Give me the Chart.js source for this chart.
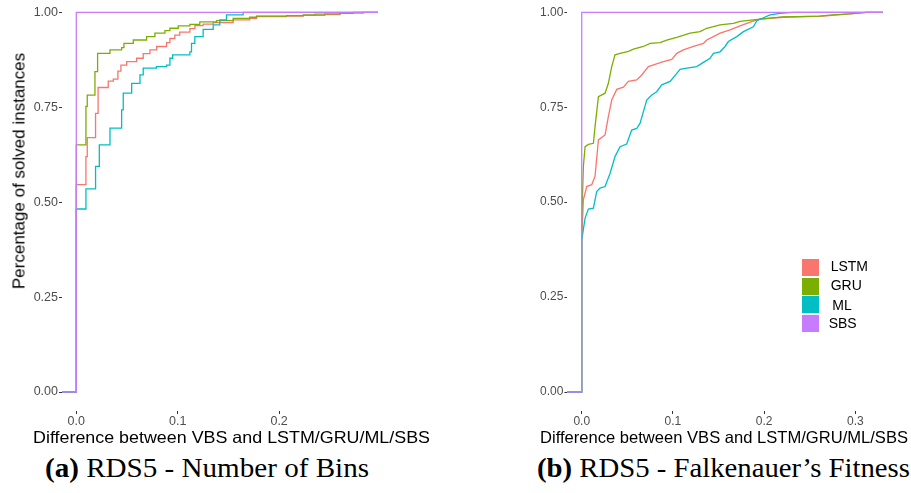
<!DOCTYPE html>
<html>
<head>
<meta charset="utf-8">
<script src="https://cdn.jsdelivr.net/npm/chart.js@4.4.1/dist/chart.umd.min.js"></script>
<style>
  html, body { margin: 0; padding: 0; background: #fff; }
  body { width: 911px; height: 493px; position: relative; overflow: hidden; }
  canvas { position: absolute; }
  .t { position: absolute; white-space: nowrap; line-height: 1; color: #000; }
  .sans { font-family: 'Liberation Sans', Arial, sans-serif; }
  .serif { font-family: 'Liberation Serif', 'Times New Roman', serif; }
  .key { position: absolute; width: 17px; height: 17px; border: 1px solid #fff; box-sizing: content-box; }
</style>
</head>
<body>
<canvas id="cA" width="455" height="440" style="left:0;top:0;"></canvas>
<canvas id="cB" width="456" height="440" style="left:455px;top:0;"></canvas>

<div class="t sans" id="ytitle" style="font-size:17px;left:18.5px;top:171px;transform:translate(-50%,-50%) rotate(-90deg);">Percentage of solved instances</div>
<div class="t sans fit" data-w="397" style="font-size:16.5px;left:33.3px;top:429.3px;">Difference between VBS and LSTM/GRU/ML/SBS</div>
<div class="t sans fit" data-w="368" style="font-size:16.5px;left:540px;top:429.3px;">Difference between VBS and LSTM/GRU/ML/SBS</div>
<div class="t serif fit" data-w="324" style="font-size:27px;left:45px;top:455.4px;"><b>(a)</b> RDS5 - Number of Bins</div>
<div class="t serif fit" data-w="373" style="font-size:27px;left:536.7px;top:455.4px;"><b>(b)</b> RDS5 - Falkenauer’s Fitness</div>
<div id="legend"></div>

<script>
// ---------- data ----------
const seriesNames = ['LSTM', 'GRU', 'ML', 'SBS'];
const seriesColors = ['#F8766D', '#7CAE00', '#00BFC4', '#C77CFF'];
const yTicks = [0, 0.25, 0.5, 0.75, 1];
const xTicksA = [0, 0.1, 0.2];
const xTicksB = [0, 0.1, 0.2, 0.3];
// ECDF padding (-Inf / +Inf), as in stat_ecdf(pad = TRUE)
const PAD_LO = -1, PAD_HI = 1;

// (a) RDS5 - Number of Bins
const aLSTM_x = [0, 0.0095, 0.0108, 0.019, 0.0215, 0.0315, 0.0365, 0.041, 0.044, 0.0497, 0.0595, 0.066, 0.0726, 0.0792, 0.089, 0.0923, 0.0972, 0.102, 0.112, 0.117, 0.125, 0.135, 0.1547, 0.171, 0.1777, 0.2073, 0.2237, 0.245, 0.26, 0.273, 0.283];
const aLSTM_y = [0.546, 0.62, 0.670, 0.734, 0.802, 0.819, 0.824, 0.845, 0.861, 0.870, 0.879, 0.891, 0.901, 0.910, 0.920, 0.931, 0.940, 0.948, 0.957, 0.965, 0.969, 0.973, 0.980, 0.984, 0.989, 0.990, 0.992, 0.994, 0.997, 0.998, 1.0];
const aGRU_x = [0, 0.0095, 0.0108, 0.0184, 0.021, 0.0332, 0.0447, 0.047, 0.0562, 0.0693, 0.0775, 0.0874, 0.0923, 0.1005, 0.112, 0.1218, 0.1383, 0.1547, 0.171, 0.1777, 0.2073, 0.2237, 0.2352, 0.245, 0.26, 0.273];
const aGRU_y = [0.651, 0.752, 0.782, 0.844, 0.892, 0.901, 0.907, 0.918, 0.927, 0.936, 0.945, 0.952, 0.958, 0.964, 0.968, 0.975, 0.978, 0.984, 0.987, 0.990, 0.991, 0.993, 0.995, 0.996, 0.998, 1.0];
const aML_x = [0, 0.0095, 0.019, 0.0227, 0.0332, 0.0447, 0.0463, 0.0546, 0.0628, 0.066, 0.079, 0.089, 0.0923, 0.095, 0.112, 0.1136, 0.1169, 0.1251, 0.135, 0.1415, 0.1481, 0.1645];
const aML_y = [0.482, 0.535, 0.594, 0.651, 0.695, 0.743, 0.787, 0.813, 0.835, 0.853, 0.857, 0.861, 0.879, 0.888, 0.896, 0.918, 0.936, 0.955, 0.967, 0.980, 0.993, 1.0];
const aSBS_x = [0];
const aSBS_y = [1.0];

// (b) RDS5 - Falkenauer's Fitness
const bLSTM_x = [0, 0.0018, 0.0055, 0.011, 0.0146, 0.0183, 0.0256, 0.0292, 0.0329, 0.0384, 0.0457, 0.0512, 0.0603, 0.0658, 0.0731, 0.0804, 0.0895, 0.0987, 0.1042, 0.1115, 0.1225, 0.1334, 0.1371, 0.1444, 0.1517, 0.1626, 0.1736, 0.181, 0.188, 0.1955, 0.2207, 0.265, 0.29, 0.3125];
const bLSTM_y = [0.40, 0.506, 0.541, 0.546, 0.568, 0.664, 0.677, 0.725, 0.769, 0.797, 0.803, 0.818, 0.822, 0.835, 0.857, 0.863, 0.870, 0.876, 0.892, 0.901, 0.910, 0.918, 0.927, 0.936, 0.945, 0.954, 0.964, 0.971, 0.977, 0.982, 0.987, 0.990, 0.995, 1.0];
const bGRU_x = [0, 0.0018, 0.0037, 0.0073, 0.0128, 0.0146, 0.0183, 0.0256, 0.0292, 0.0329, 0.0365, 0.042, 0.0512, 0.0567, 0.0676, 0.075, 0.0859, 0.0932, 0.1042, 0.1188, 0.1298, 0.137, 0.1444, 0.1517, 0.1663, 0.1736, 0.1955, 0.2207, 0.26, 0.275, 0.294, 0.312];
const bGRU_y = [0.45, 0.594, 0.646, 0.652, 0.655, 0.699, 0.778, 0.787, 0.813, 0.857, 0.888, 0.892, 0.897, 0.903, 0.910, 0.918, 0.920, 0.927, 0.934, 0.945, 0.949, 0.958, 0.962, 0.967, 0.971, 0.976, 0.982, 0.988, 0.990, 0.993, 0.996, 1.0];
const bML_x = [0, 0.0037, 0.0073, 0.0128, 0.0164, 0.0201, 0.0256, 0.0311, 0.0365, 0.042, 0.0493, 0.0548, 0.0603, 0.064, 0.0713, 0.0768, 0.0822, 0.0877, 0.0969, 0.1042, 0.1078, 0.1151, 0.1261, 0.1334, 0.1407, 0.1444, 0.1517, 0.1572, 0.1608, 0.17, 0.1773, 0.1882, 0.192, 0.2065, 0.217, 0.232];
const bML_y = [0.40, 0.458, 0.482, 0.484, 0.528, 0.537, 0.541, 0.576, 0.620, 0.646, 0.653, 0.690, 0.694, 0.708, 0.769, 0.782, 0.791, 0.809, 0.818, 0.839, 0.850, 0.853, 0.857, 0.868, 0.879, 0.892, 0.896, 0.910, 0.923, 0.936, 0.949, 0.962, 0.978, 0.993, 0.997, 1.0];
const bSBS_x = [0];
const bSBS_y = [1.0];

// ---------- chart building ----------
function ecdfPoints(xs, ys) {
  const pts = [{ x: PAD_LO, y: 0 }, { x: xs[0], y: 0 }];
  for (let i = 0; i < xs.length; i++) pts.push({ x: xs[i], y: ys[i] });
  pts.push({ x: PAD_HI, y: 1 });
  return pts;
}

function noPad(sc) {
  sc.paddingTop = 0; sc.paddingBottom = 0; sc.paddingLeft = 0; sc.paddingRight = 0;
}

function makeChart(id, series, xTicks, opts) {
  const datasets = series.map((s, i) => ({
    label: seriesNames[i],
    data: ecdfPoints(s[0], s[1]),
    borderColor: seriesColors[i],
    backgroundColor: seriesColors[i],
    borderWidth: 1.3,
    pointRadius: 0,
    fill: false,
    stepped: opts.stepped,
    tension: 0,
    order: series.length - i
  }));
  const tickFont = { family: "'Liberation Sans', Arial, sans-serif", size: opts.tickSize };
  return new Chart(document.getElementById(id), {
    type: 'line',
    data: { datasets },
    options: {
      responsive: false,
      animation: false,
      events: [],
      layout: { padding: { left: 0, right: opts.padRight, top: 0, bottom: 0 }, autoPadding: false },
      plugins: { legend: { display: false }, tooltip: { enabled: false } },
      scales: {
        x: {
          type: 'linear', min: opts.xMin, max: opts.xMax,
          afterBuildTicks: sc => { sc.ticks = xTicks.map(v => ({ value: v })); },
          afterFit: sc => { sc.height = 29; noPad(sc); },
          border: { display: false },
          grid: { display: true, drawOnChartArea: false, drawTicks: true, tickLength: 3, color: '#333333', lineWidth: 1 },
          ticks: { color: '#4D4D4D', font: tickFont, padding: 0, maxRotation: 0, autoSkip: false,
                   callback: v => Number(v).toFixed(1) }
        },
        y: {
          type: 'linear', min: -0.05, max: 1.0324,
          afterBuildTicks: sc => { sc.ticks = yTicks.map(v => ({ value: v })); },
          afterFit: sc => { sc.width = opts.yWidth; noPad(sc); },
          border: { display: false },
          grid: { display: true, drawOnChartArea: false, drawTicks: true, tickLength: 3, color: '#333333', lineWidth: 1 },
          ticks: { color: '#4D4D4D', font: tickFont, padding: 1, autoSkip: false,
                   callback: v => Number(v).toFixed(2) }
        }
      }
    }
  });
}

makeChart('cA',
  [[aLSTM_x, aLSTM_y], [aGRU_x, aGRU_y], [aML_x, aML_y], [aSBS_x, aSBS_y]],
  xTicksA,
  { stepped: true, xMin: -0.0141, xMax: 0.2975, yWidth: 62, padRight: 77, tickSize: 12.5 });

makeChart('cB',
  [[bLSTM_x, bLSTM_y], [bGRU_x, bGRU_y], [bML_x, bML_y], [bSBS_x, bSBS_y]],
  xTicksB,
  { stepped: false, xMin: -0.0157, xMax: 0.3300, yWidth: 112.4, padRight: 28.3, tickSize: 12 });

// ---------- legend (inside panel b) ----------
const legend = document.getElementById('legend');
const keyTops = [258, 276.5, 295, 313.5];
const labelLefts = [830.7, 830.7, 832.3, 828.7];
const labelCenters = [265.5, 284.5, 305, 323];
seriesNames.forEach((n, i) => {
  const k = document.createElement('div');
  k.className = 'key';
  k.style.left = '800.5px';
  k.style.top = keyTops[i] + 'px';
  k.style.background = seriesColors[i];
  legend.appendChild(k);
  const t = document.createElement('div');
  t.className = 't sans';
  t.style.fontSize = '14px';
  t.style.left = labelLefts[i] + 'px';
  t.style.top = (labelCenters[i] - 7) + 'px';
  t.textContent = n;
  legend.appendChild(t);
});

// stretch text blocks to the measured widths
function fitAll() {
  document.querySelectorAll('.fit').forEach(el => {
    el.style.transform = 'none';
    const w = el.getBoundingClientRect().width;
    const target = parseFloat(el.dataset.w);
    el.style.transformOrigin = '0 0';
    el.style.transform = 'scaleX(' + (target / w) + ')';
  });
}
fitAll();
if (document.fonts && document.fonts.ready) document.fonts.ready.then(fitAll);
</script>
</body>
</html>
